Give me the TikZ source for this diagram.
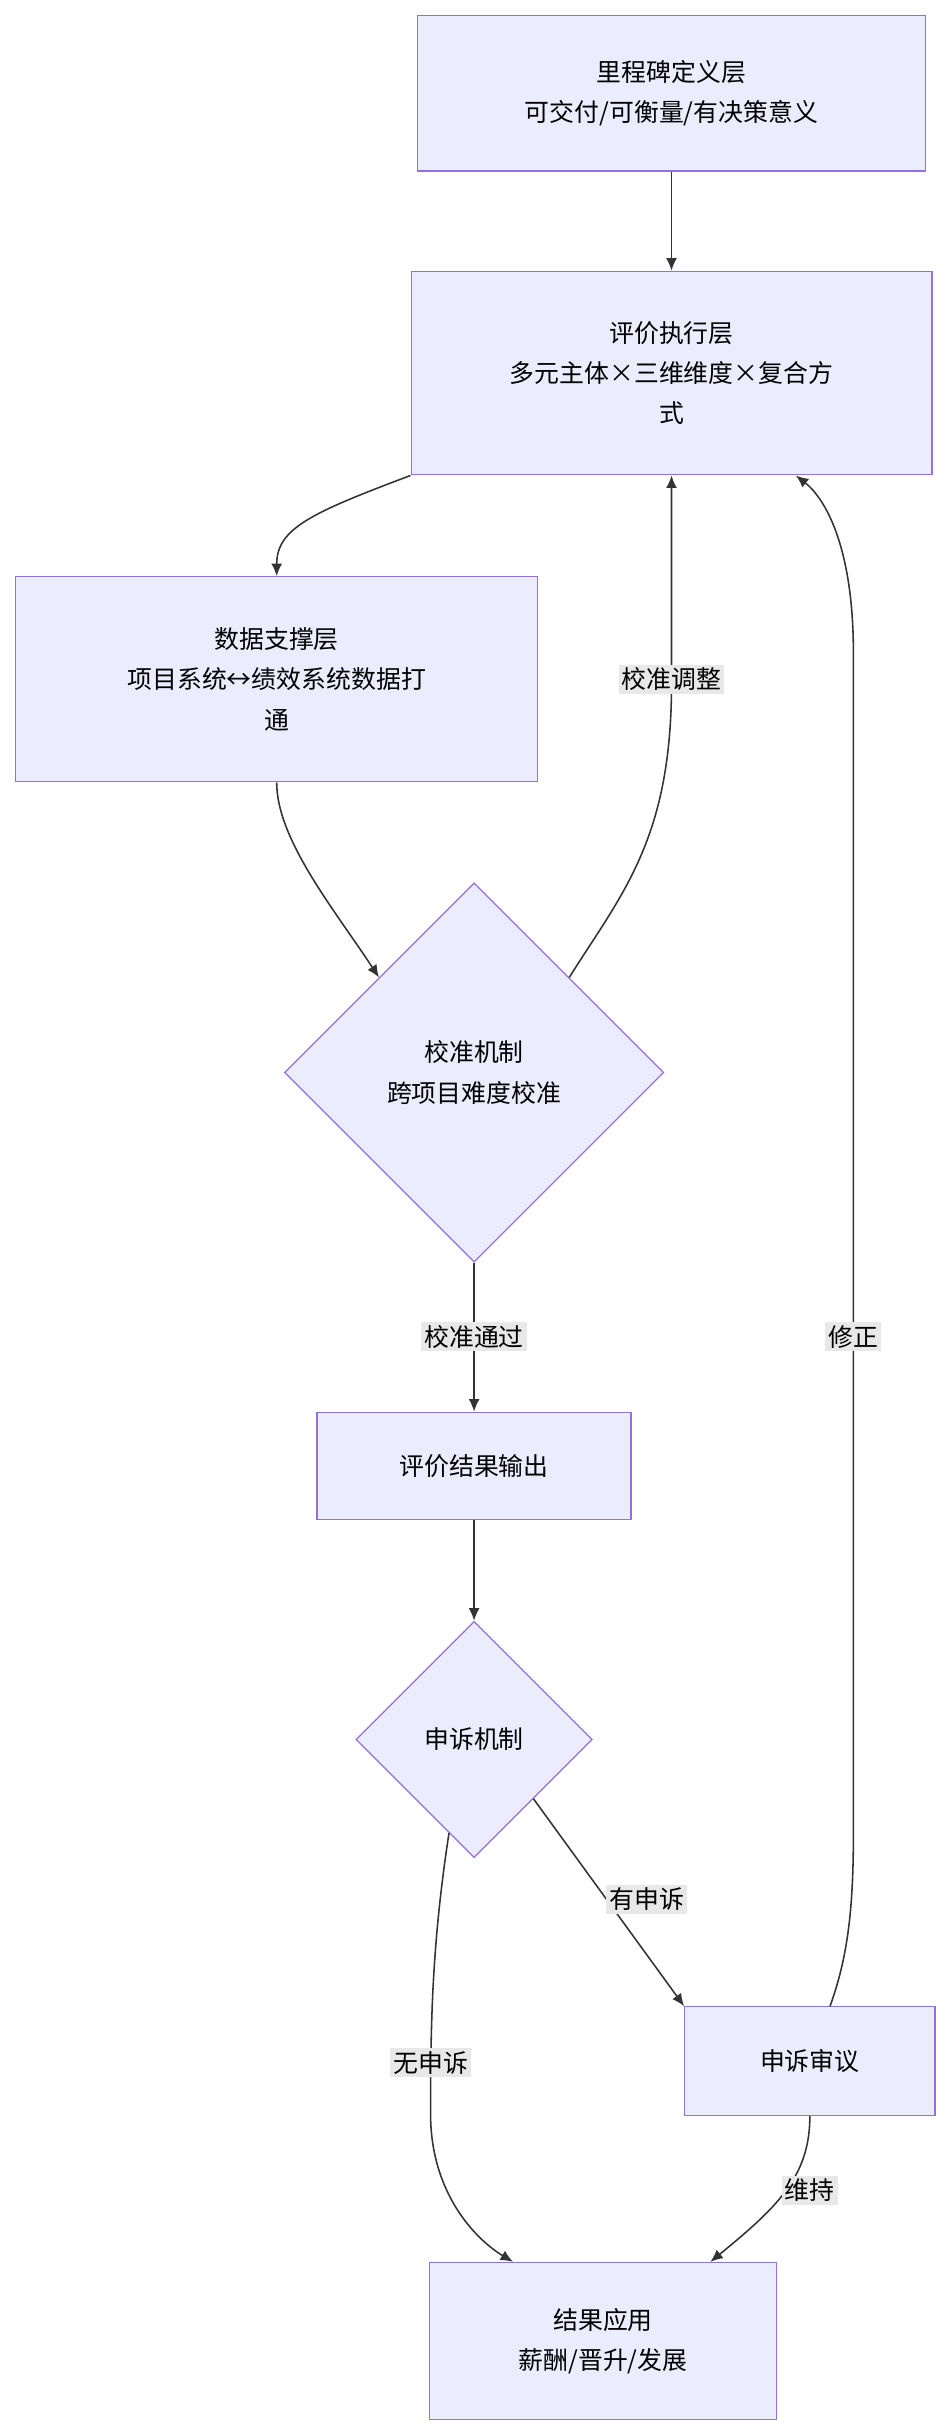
\documentclass[tikz,border=0pt]{standalone}
\usepackage{fontspec}
\setmainfont{Noto Sans CJK SC}
\usetikzlibrary{shapes.geometric,arrows.meta}
\begin{document}
\begin{tikzpicture}[x=1pt,y=-1pt,
  box/.style={draw=violet!60!blue!50,fill=boxfill,line width=0.8pt,align=center,font=\fontsize{16}{26}\selectfont,inner sep=0pt},
  dia/.style={diamond,aspect=1,draw=boxline,fill=boxfill,line width=0.8pt,align=center,font=\fontsize{16}{26}\selectfont,inner sep=0pt},
  edge/.style={draw=arrowc,line width=1pt,-{Latex[length=8pt,width=7pt]}},
  lbl/.style={fill=lblbg,font=\fontsize{16}{20}\selectfont,inner sep=2pt}]
\definecolor{boxfill}{HTML}{ECECFF}
\definecolor{boxline}{HTML}{9370DB}
\definecolor{arrowc}{HTML}{333333}
\definecolor{lblbg}{HTML}{E8E8E8}
\tikzset{box/.append style={draw=boxline}}
\useasboundingbox[fill=white] (0,0) rectangle (610,1562);
\node[box,minimum width=327,minimum height=100] (A) at (432,60) {里程碑定义层\\可交付/可衡量/有决策意义};
\node[box,minimum width=335,minimum height=131] (B) at (432,240) {评价执行层\\多元主体×三维维度×复合方\\式};
\node[box,minimum width=336,minimum height=132] (C) at (178,437) {数据支撑层\\项目系统↔绩效系统数据打\\通};
\node[dia,minimum width=244,minimum height=244] (D) at (305,690) {校准机制\\跨项目难度校准};
\node[box,minimum width=202,minimum height=69] (E) at (305,943) {评价结果输出};
\node[dia,minimum width=152,minimum height=152] (F) at (305,1119) {申诉机制};
\node[box,minimum width=161,minimum height=70] (G) at (521,1326) {申诉审议};
\node[box,minimum width=223,minimum height=101] (H) at (388,1506) {结果应用\\薪酬/晋升/发展};
\coordinate (g1) at (549,1180);
\coordinate (g2) at (549,420);
\draw[edge] (A) -- (B);
\draw[edge] (B.south west) .. controls (200,330) and (178,340) .. (C.north);
\draw[edge] (C.south) .. controls (178,540) and (215,585) .. (D.north west);
\draw[edge] (D.north east) .. controls (400,575) and (432,540) .. (432,440) -- (B.south);
\node[lbl] (l1) at (432,437) {校准调整};
\draw[edge] (D.south) -- (E.north);
\node[lbl] (l2) at (305,860) {校准通过};
\draw[edge] (E) -- (F);
\draw[edge] (F.south east) -- (G.north west);
\node[lbl] (l3) at (416,1222) {有申诉};
\draw[edge] (F.255) .. controls (278,1250) and (277,1300) .. (277,1360) .. controls (277,1410) and (305,1440) .. ([xshift=-58]H.north);
\node[lbl] (l4) at (277,1327) {无申诉};
\draw[edge] ([xshift=13]G.north) .. controls (545,1260) and (549,1230) .. (g1) -- (g2) .. controls (549,350) and (530,320) .. ([xshift=80]B.south);
\node[lbl] (l5) at (549,860) {修正};
\draw[edge] (G.south) .. controls (521,1400) and (500,1420) .. ([xshift=69]H.north);
\node[lbl] (l6) at (521,1409) {维持};
\end{tikzpicture}
\end{document}
